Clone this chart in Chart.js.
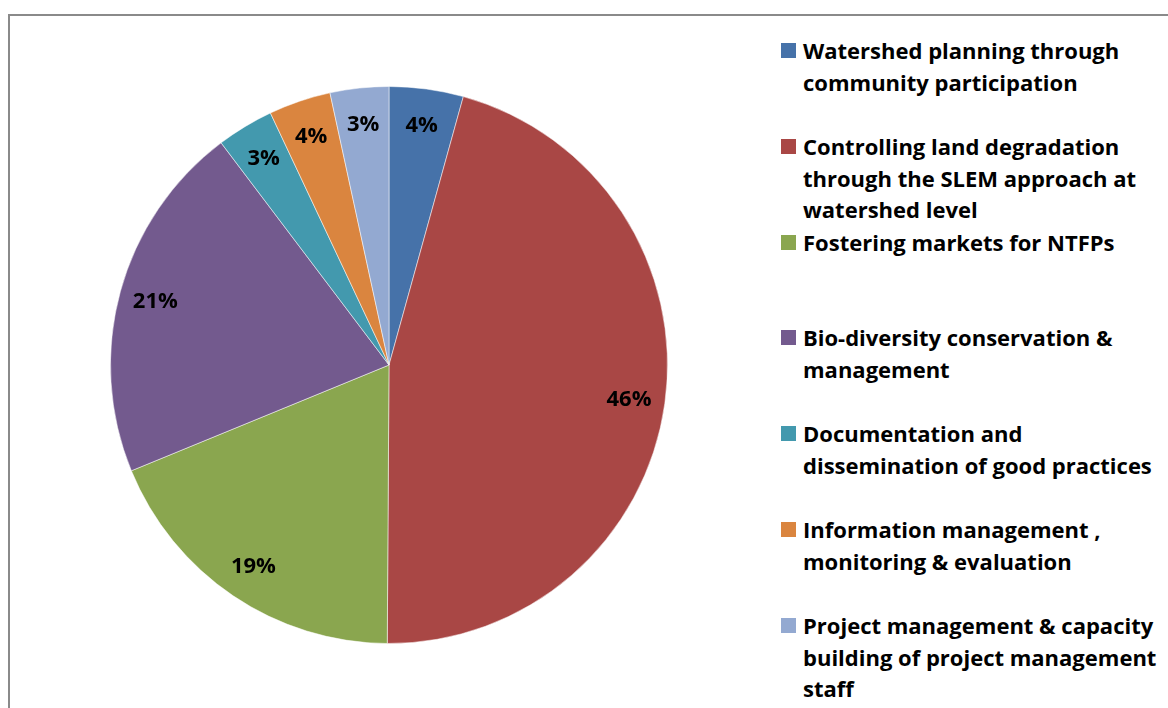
<!DOCTYPE html>
<html>
<head>
<meta charset="utf-8">
<script src="https://cdn.jsdelivr.net/npm/chart.js@4/dist/chart.umd.min.js"></script>
<style>
    html, body { margin: 0; padding: 0; background: #fff; overflow: hidden; }
    body { width: 1168px; height: 708px; position: relative; font-family: "Open Sans", Lato, sans-serif; }
    .marco { position: absolute; left: 8px; top: 14px; width: 1300px; height: 900px; border: 2px solid #8a8a8a; }
    .pastel { position: absolute; left: 110px; top: 86px; width: 558px; height: 558px; }
    .leyenda { position: absolute; left: 781px; top: 35px; }
    .item { position: absolute; left: 0; height: 96px; width: 420px; }
    .cuadro { position: absolute; left: 0; top: 8px; width: 15px; height: 15px; }
    .texto { position: absolute; left: 22px; top: 0; font-weight: bold; font-size: 22px; line-height: 31.8px; color: #000; white-space: nowrap; }
</style>
</head>
<body>
<div class="marco"></div>
<div class="pastel"><canvas id="graficaPastel"></canvas></div>
<div class="leyenda" id="leyenda"></div>
<script>
"use strict";

const categorias = [
    ["Watershed planning through", "community participation"],
    ["Controlling land degradation", "through the SLEM approach at", "watershed level"],
    ["Fostering markets for NTFPs"],
    ["Bio-diversity conservation &", "management"],
    ["Documentation and", "dissemination of good practices"],
    ["Information management ,", "monitoring & evaluation"],
    ["Project management & capacity", "building of project management", "staff"]
];

// percentage shares
const valores = [4.3, 45.8, 18.7, 20.9, 3.3, 3.6, 3.4];

const colores = ["#4672a9", "#a94745", "#8aa64f", "#735a8e", "#4399ae", "#da853f", "#93a9d1"];

const total = valores.reduce((a, b) => a + b, 0);
const etiquetas = valores.map(v => Math.round(v / total * 100) + "%");

const etiquetasSector = {
    id: "etiquetasSector",
    afterDatasetsDraw(chart) {
        const ctx = chart.ctx;
        const meta = chart.getDatasetMeta(0);
        ctx.save();
        ctx.font = "bold 22px 'Open Sans', Lato, sans-serif";
        ctx.fillStyle = "#000";
        ctx.textAlign = "center";
        ctx.textBaseline = "middle";
        meta.data.forEach((arco, i) => {
            const p = arco.getProps(["x", "y", "startAngle", "endAngle", "outerRadius"], true);
            const medio = (p.startAngle + p.endAngle) / 2;
            const r = p.outerRadius * 0.87;
            ctx.fillText(etiquetas[i], p.x + Math.cos(medio) * r, p.y + Math.sin(medio) * r + 1);
        });
        ctx.restore();
    }
};

new Chart(document.getElementById("graficaPastel"), {
    type: "pie",
    data: {
        labels: categorias.map(c => c.join(" ")),
        datasets: [{
            data: valores,
            backgroundColor: colores,
            borderColor: "rgba(255,255,255,0.5)",
            borderWidth: 1
        }]
    },
    options: {
        responsive: true,
        maintainAspectRatio: false,
        animation: false,
        layout: { padding: 0 },
        plugins: {
            legend: { display: false },
            tooltip: { enabled: false }
        }
    },
    plugins: [etiquetasSector]
});

const leyenda = document.getElementById("leyenda");
categorias.forEach((lineas, i) => {
    const item = document.createElement("div");
    item.className = "item";
    item.style.top = (i * 95.8) + "px";
    const cuadro = document.createElement("div");
    cuadro.className = "cuadro";
    cuadro.style.background = colores[i];
    const texto = document.createElement("div");
    texto.className = "texto";
    lineas.forEach((l, j) => {
        if (j > 0) texto.appendChild(document.createElement("br"));
        texto.appendChild(document.createTextNode(l));
    });
    item.appendChild(cuadro);
    item.appendChild(texto);
    leyenda.appendChild(item);
});
</script>
</body>
</html>
